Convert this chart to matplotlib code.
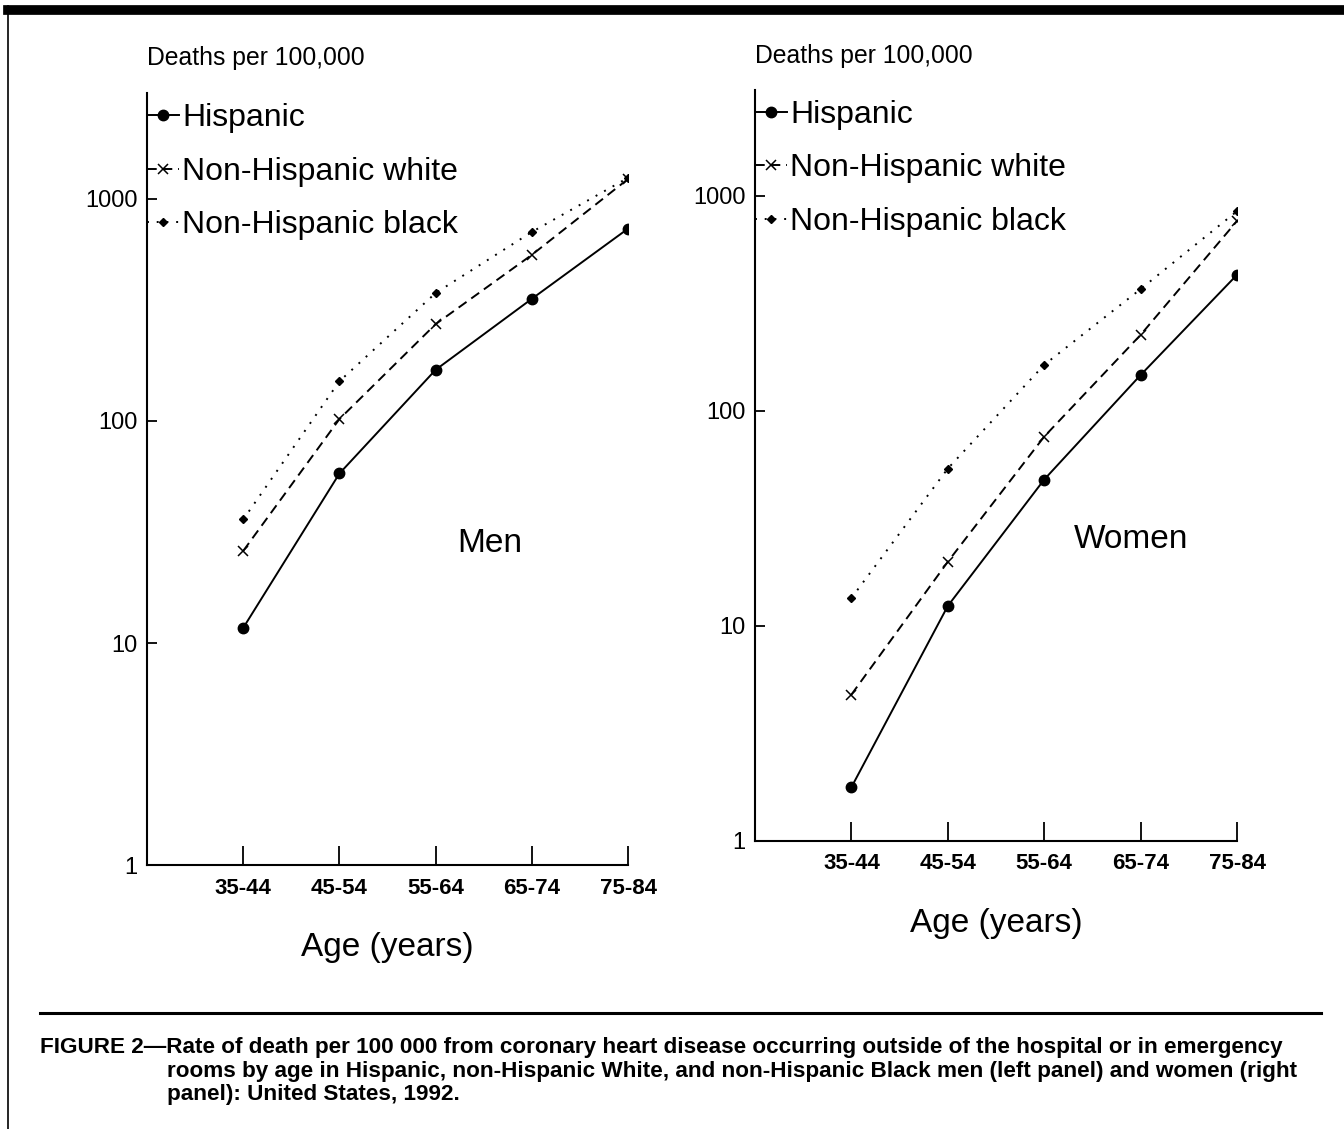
import matplotlib
matplotlib.use("Agg")
import matplotlib.pyplot as plt
from matplotlib.lines import Line2D

plt.rcParams["font.family"] = ["Liberation Sans", "DejaVu Sans"]

age_groups = ["35-44", "45-54", "55-64", "65-74", "75-84"]
series_names = ["Hispanic", "Non-Hispanic white", "Non-Hispanic black"]

men_hispanic = [11.7, 58, 170, 355, 735]
men_white = [26, 102, 273, 560, 1230]
men_black = [36, 151, 377, 710, 1245]

women_hispanic = [1.78, 12.4, 48, 147, 430]
women_white = [4.8, 19.9, 76, 226, 765]
women_black = [13.5, 54, 164, 369, 850]

styles = [
    dict(linestyle="-", marker="o", markersize=7.5),
    dict(linestyle=(0, (5, 3)), marker="x", markersize=7, markeredgewidth=1.1),
    dict(linestyle=(0, (1, 4)), marker="D", markersize=4.5),
]


def draw_panel(ax, data, ytop, panel_label, label_xy):
    x = list(range(len(age_groups)))
    for values, name, st in zip(data, series_names, styles):
        ax.plot(x, values, color="black", linewidth=1.4, label=name, **st)

    ax.set_yscale("log")
    ax.set_ylim(1, ytop)
    ax.set_xlim(-1, 4)
    ax.set_yticks([1, 10, 100, 1000])
    ax.set_yticklabels(["1", "10", "100", "1000"])
    ax.minorticks_off()
    ax.set_xticks(x)
    ax.set_xticklabels(age_groups)

    for side in ["top", "right"]:
        ax.spines[side].set_visible(False)
    for side in ["left", "bottom"]:
        ax.spines[side].set_linewidth(1.5)

    ax.tick_params(axis="y", direction="in", length=7, width=1.3,
                   pad=7, labelsize=17)
    ax.tick_params(axis="x", direction="in", length=14, width=1.3,
                   pad=9, labelsize=16)
    for lbl in ax.get_xticklabels():
        lbl.set_fontweight("bold")

    ax.set_xlabel("Age (years)", fontsize=24, labelpad=24)
    ax.text(0, 1.045, "Deaths per 100,000", transform=ax.transAxes,
            fontsize=17.8, ha="left", va="center")
    ax.text(label_xy[0], label_xy[1], panel_label, transform=ax.transAxes,
            fontsize=24, ha="center", va="center")

    ax.legend(loc="upper left", bbox_to_anchor=(0.0, 0.987), frameon=False,
              fontsize=23, handlelength=1.0, handletextpad=0.1,
              borderpad=0, borderaxespad=0, labelspacing=0.74,
              numpoints=1)


fig = plt.figure(figsize=(13.44, 11.29), dpi=100)

ax1 = fig.add_axes([0.1094, 0.2338, 0.3579, 0.6838])
draw_panel(ax1, [men_hispanic, men_white, men_black], 10 ** 3.477,
           "Men", (0.713, 0.417))

ax2 = fig.add_axes([0.5618, 0.2551, 0.3586, 0.6652])
draw_panel(ax2, [women_hispanic, women_white, women_black], 10 ** 3.493,
           "Women", (0.78, 0.401))

# page frame: thick top bar, left rule, caption rule
fig.add_artist(Line2D([0.006, 1.0], [0.9911, 0.9911], color="black",
                      linewidth=7, transform=fig.transFigure))
fig.add_artist(Line2D([0.006, 0.006], [0.0, 0.995], color="black",
                      linewidth=1.2, transform=fig.transFigure))
fig.add_artist(Line2D([0.03, 0.983], [0.1027, 0.1027], color="black",
                      linewidth=2.2, transform=fig.transFigure))

cap_size = 16.2
fig.text(0.030, 0.0725,
         "FIGURE 2\u2014Rate of death per 100 000 from coronary heart disease "
         "occurring outside of the hospital or in emergency",
         fontsize=cap_size, fontweight="bold", ha="left", va="center")
fig.text(0.1243, 0.0510,
         "rooms by age in Hispanic, non-Hispanic White, and non-Hispanic "
         "Black men (left panel) and women (right",
         fontsize=cap_size, fontweight="bold", ha="left", va="center")
fig.text(0.1243, 0.0306, "panel): United States, 1992.",
         fontsize=cap_size, fontweight="bold", ha="left", va="center")

fig.savefig("out.png", dpi=100)
